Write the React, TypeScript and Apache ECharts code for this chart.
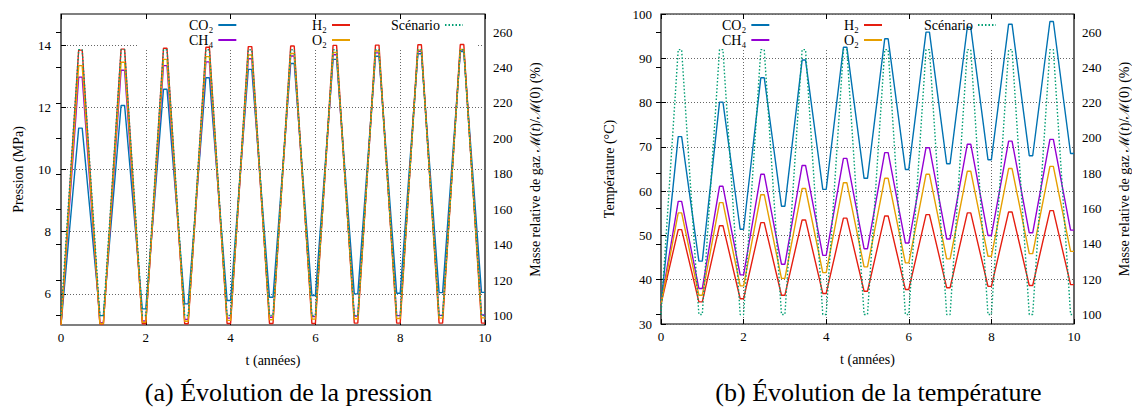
import React, { useEffect, useRef } from 'react';
import * as echarts from 'echarts';

// ---- time structure (years): each cycle = injection, hold, withdrawal, hold
const cycleStarts = [0, 1, 2, 3, 4, 5, 6, 7, 8, 9];
const phaseEnds = [0.417, 0.5, 0.917, 1.0];

// ---- (a) pressure, MPa
const pStart = [5.0, 5.0, 5.0, 5.0]; // CO2, CH4, H2, O2
const co2PPeaks = [11.33, 12.06, 12.58, 12.95, 13.22, 13.41, 13.54, 13.64, 13.72, 13.79];
const co2PTroughs = [5.3, 5.52, 5.68, 5.79, 5.89, 5.95, 6.0, 6.02, 6.04, 6.05];
const ch4PPeaks = [12.97, 13.19, 13.34, 13.46, 13.56, 13.65, 13.69, 13.75, 13.8, 13.84];
const ch4PTroughs = [5.07, 5.13, 5.18, 5.22, 5.25, 5.27, 5.29, 5.3, 5.31, 5.32];
const h2PPeaks = [13.84, 13.87, 13.9, 13.93, 13.95, 13.97, 13.99, 14.0, 14.01, 14.02];
const h2PTroughs = [5.03, 5.04, 5.04, 5.05, 5.05, 5.05, 5.06, 5.06, 5.06, 5.06];
const o2PPeaks = [13.34, 13.45, 13.54, 13.63, 13.68, 13.73, 13.76, 13.81, 13.84, 13.86];
const o2PTroughs = [5.05, 5.09, 5.12, 5.15, 5.17, 5.19, 5.2, 5.21, 5.22, 5.23];

// ---- (b) temperature, °C
const tStart = [34.5, 34.5, 34.5, 34.5];
const co2TPeaks = [72.3, 80.1, 85.6, 89.6, 92.5, 94.4, 95.9, 97.0, 97.7, 98.3];
const co2TTroughs = [44.2, 51.4, 56.6, 60.4, 62.9, 64.9, 66.2, 67.1, 68.0, 68.5];
const ch4TPeaks = [57.7, 61.1, 63.8, 65.8, 67.4, 68.7, 69.8, 70.6, 71.3, 71.7];
const ch4TTroughs = [38.0, 41.1, 43.5, 45.5, 47.0, 48.3, 49.2, 50.0, 50.6, 51.2];
const h2TPeaks = [51.3, 52.2, 52.9, 53.5, 53.9, 54.4, 54.7, 55.1, 55.3, 55.6];
const h2TTroughs = [35.0, 35.7, 36.5, 36.9, 37.4, 37.8, 38.2, 38.5, 38.7, 38.9];
const o2TPeaks = [55.1, 57.4, 59.2, 60.6, 61.9, 62.9, 63.8, 64.5, 65.1, 65.6];
const o2TTroughs = [36.5, 38.6, 40.3, 41.6, 42.9, 43.8, 44.7, 45.3, 45.9, 46.4];

// ---- scenario: relative gas mass (%)
const scenarioStart = 100;
const scenarioPeaks = [250, 250, 250, 250, 250, 250, 250, 250, 250, 250];
const scenarioTroughs = [100, 100, 100, 100, 100, 100, 100, 100, 100, 100];

// ---- axes
const pressureTicks = [6, 8, 10, 12, 14];
const massTicks = [100, 120, 140, 160, 180, 200, 220, 240, 260];

const names = ['CO₂', 'CH₄', 'H₂', 'O₂', 'Scénario'];
const colors = ['#0072B2', '#9400D3', '#E51E10', '#E69F00', '#009E73'];

function build(start: number, peaks: number[], troughs: number[]) {
  const pts: number[][] = [[0, start]];
  cycleStarts.forEach((c, k) => {
    pts.push([c + phaseEnds[0], peaks[k]]);
    pts.push([c + phaseEnds[1], peaks[k]]);
    pts.push([c + phaseEnds[2], troughs[k]]);
    pts.push([c + phaseEnds[3], troughs[k]]);
  });
  return pts;
}

const FONT = '"Liberation Serif", "Times New Roman", serif';
const gridLine = { show: true, lineStyle: { color: '#666', width: 1, type: [1, 2] as any } };
const tickStyle = { inside: true, length: 5, lineStyle: { color: '#000', width: 1 } };
const labelStyle = { color: '#000', fontFamily: FONT, fontSize: 13 };
const nameStyle = { color: '#000', fontFamily: FONT, fontSize: 14, rich: { i: { fontStyle: 'italic', fontFamily: FONT, fontSize: 14, color: '#000' } } };
const massName = 'Masse relative de gaz ℳ({i|t})/ℳ(0) (%)';

export default function App() {
  const ref = useRef<HTMLDivElement>(null);
  useEffect(() => {
    if (!ref.current) return;
    const chart = echarts.init(ref.current, undefined, { renderer: 'svg' });

    const xAxes: any[] = [];
    const yAxes: any[] = [];
    [0, 1].forEach((g) => {
      xAxes.push({
        gridIndex: g, type: 'value', min: 0, max: 10, interval: 2, position: 'bottom',
        axisLine: { show: false }, axisTick: tickStyle,
        axisLabel: { ...labelStyle, margin: 6 }, splitLine: gridLine,
        name: 't (années)', nameLocation: 'middle', nameGap: 28, nameTextStyle: nameStyle,
      });
      xAxes.push({
        gridIndex: g, type: 'value', min: 0, max: 10, interval: 2, position: 'top', z: 5,
        axisLine: { show: false }, axisTick: tickStyle, axisLabel: { show: false }, splitLine: { show: false },
      });
    });
    yAxes.push({
      gridIndex: 0, type: 'value', min: 5, max: 15, position: 'left',
      axisLine: { show: false },
      axisTick: { ...tickStyle, customValues: pressureTicks },
      axisLabel: { ...labelStyle, margin: 10, customValues: pressureTicks },
      splitLine: gridLine,
      name: 'Pression (MPa)', nameLocation: 'middle', nameGap: 36, nameTextStyle: nameStyle,
    });
    yAxes.push({
      gridIndex: 0, type: 'value', min: 94.6, max: 270.2, position: 'right',
      axisLine: { show: false },
      axisTick: { ...tickStyle, customValues: massTicks },
      axisLabel: { ...labelStyle, margin: 8, customValues: massTicks },
      splitLine: { show: false },
      name: massName, nameLocation: 'middle', nameGap: 43, nameTextStyle: nameStyle,
    });
    yAxes.push({
      gridIndex: 1, type: 'value', min: 30, max: 100, interval: 10, position: 'left',
      axisLine: { show: false }, axisTick: tickStyle,
      axisLabel: { ...labelStyle, margin: 9 },
      splitLine: gridLine,
      name: 'Température (°C)', nameLocation: 'middle', nameGap: 45, nameTextStyle: nameStyle,
    });
    yAxes.push({
      gridIndex: 1, type: 'value', min: 94.6, max: 270.2, position: 'right',
      axisLine: { show: false },
      axisTick: { ...tickStyle, customValues: massTicks },
      axisLabel: { ...labelStyle, margin: 8, customValues: massTicks },
      splitLine: { show: false },
      name: massName, nameLocation: 'middle', nameGap: 43, nameTextStyle: nameStyle,
    });

    const pData = [
      build(pStart[0], co2PPeaks, co2PTroughs),
      build(pStart[1], ch4PPeaks, ch4PTroughs),
      build(pStart[2], h2PPeaks, h2PTroughs),
      build(pStart[3], o2PPeaks, o2PTroughs),
    ];
    const tData = [
      build(tStart[0], co2TPeaks, co2TTroughs),
      build(tStart[1], ch4TPeaks, ch4TTroughs),
      build(tStart[2], h2TPeaks, h2TTroughs),
      build(tStart[3], o2TPeaks, o2TTroughs),
    ];
    const scen = build(scenarioStart, scenarioPeaks, scenarioTroughs);

    const series: any[] = [];
    [pData, tData].forEach((set, g) => {
      set.forEach((d, i) => {
        series.push({
          type: 'line', name: names[i], data: d, xAxisIndex: g * 2, yAxisIndex: g * 2,
          symbol: 'none', showSymbol: false, z: 2,
          lineStyle: { color: colors[i], width: 1.4 }, itemStyle: { color: colors[i] },
        });
      });
      series.push({
        type: 'line', name: names[4], data: scen, xAxisIndex: g * 2, yAxisIndex: g * 2 + 1,
        symbol: 'none', showSymbol: false, z: 2,
        lineStyle: { color: colors[4], width: 1.4, type: [1.5, 2] }, itemStyle: { color: colors[4] },
      });
    });

    const legendBase = {
      orient: 'vertical', align: 'right', padding: 0, itemGap: 1, itemWidth: 18, itemHeight: 14,
      selectedMode: false, top: 18,
      itemStyle: { opacity: 0 },
      textStyle: { color: '#000', fontFamily: FONT, fontSize: 14 },
    };
    const legends = [
      { ...legendBase, left: 189, data: [names[0], names[1]] },
      { ...legendBase, left: 312, data: [names[2], names[3]] },
      { ...legendBase, left: 391, data: [names[4]] },
      { ...legendBase, left: 722, data: [names[0], names[1]] },
      { ...legendBase, left: 844, data: [names[2], names[3]] },
      { ...legendBase, left: 924, data: [names[4]] },
    ];

    const capFont = '26px "Liberation Serif", serif';
    chart.setOption({
      animation: false,
      backgroundColor: '#fff',
      grid: [
        { left: 61, top: 14, width: 424, height: 311, show: true, borderColor: '#000', borderWidth: 1.2, containLabel: false },
        { left: 661, top: 14, width: 414, height: 310, show: true, borderColor: '#000', borderWidth: 1.2, containLabel: false },
      ],
      xAxis: xAxes,
      yAxis: yAxes,
      legend: legends,
      series,
      graphic: {
        elements: [
          { type: 'rect', z: 1, shape: { x: 137, y: 15.5, width: 340, height: 32.5 }, style: { fill: '#fff' } },
          { type: 'rect', z: 1, shape: { x: 670, y: 15.5, width: 339, height: 32.5 }, style: { fill: '#fff' } },
          { type: 'text', z: 1, x: 288.5, y: 392, style: { text: '(a) Évolution de la pression', font: capFont, fill: '#000', textAlign: 'center', textVerticalAlign: 'middle' } },
          { type: 'text', z: 1, x: 878.5, y: 392, style: { text: '(b) Évolution de la température', font: capFont, fill: '#000', textAlign: 'center', textVerticalAlign: 'middle' } },
        ],
      },
    });
    return () => chart.dispose();
  }, []);
  return <div ref={ref} style={{ position: 'fixed', left: 0, top: 0, width: 1132, height: 407, background: '#fff' }} />;
}
